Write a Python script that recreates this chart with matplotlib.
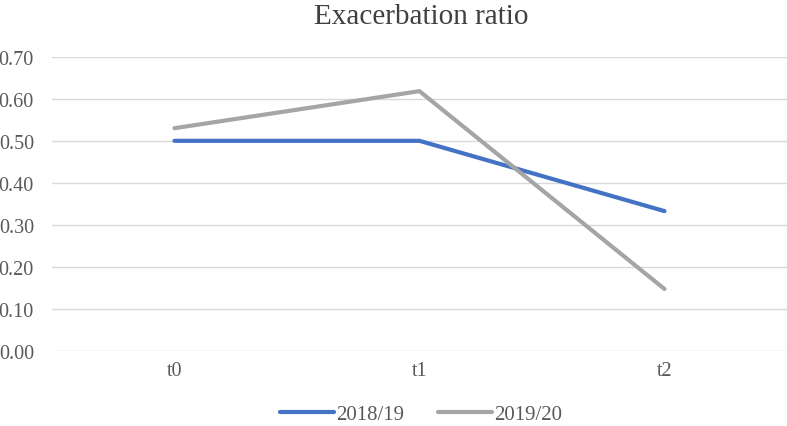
import numpy as np
import matplotlib.pyplot as plt

# datos
categories = ["t0", "t1", "t2"]
s2018 = [0.50, 0.50, 0.333]
s2019 = [0.53, 0.618, 0.148]
labels = ["2018/19", "2019/20"]

plt.rcParams['font.family'] = ['Liberation Serif', 'DejaVu Serif']

fig = plt.figure(figsize=(7.87, 4.27), dpi=100)
ax = fig.add_axes([0.066, 0.175, 0.934, 0.69])

x = np.arange(len(categories))
ax.plot(x, s2018, color='#4472C4', lw=3, solid_capstyle='round', label=labels[0])
ax.plot(x, s2019, color='#A5A5A5', lw=3, solid_capstyle='round', label=labels[1])

ax.set_xlim(-0.5, 2.5)
ax.set_ylim(0, 0.70)
ax.set_yticks(np.arange(0, 0.71, 0.1))
ax.set_yticklabels([f"{v:.2f}" for v in np.arange(0, 0.71, 0.1)])
ax.set_xticks(x)
ax.set_xticklabels(categories)
ax.grid(axis='y', color='#D9D9D9', lw=1)
ax.set_axisbelow(True)
for s in ax.spines.values():
    s.set_visible(False)
ax.tick_params(length=0, labelsize=14.5, colors='#595959', pad=13)
ax.tick_params(axis='x', pad=7)

fig.text(0.535, 0.99, "Exacerbation ratio", ha='center', va='top', fontsize=21, color='#404040')
fig.legend(loc='lower center', bbox_to_anchor=(0.535, -0.04), ncol=2, frameon=False,
           fontsize=15, handlelength=2.6, columnspacing=1.6, handletextpad=0.1,
           labelcolor='#595959')

fig.savefig("out.png", dpi=100)
